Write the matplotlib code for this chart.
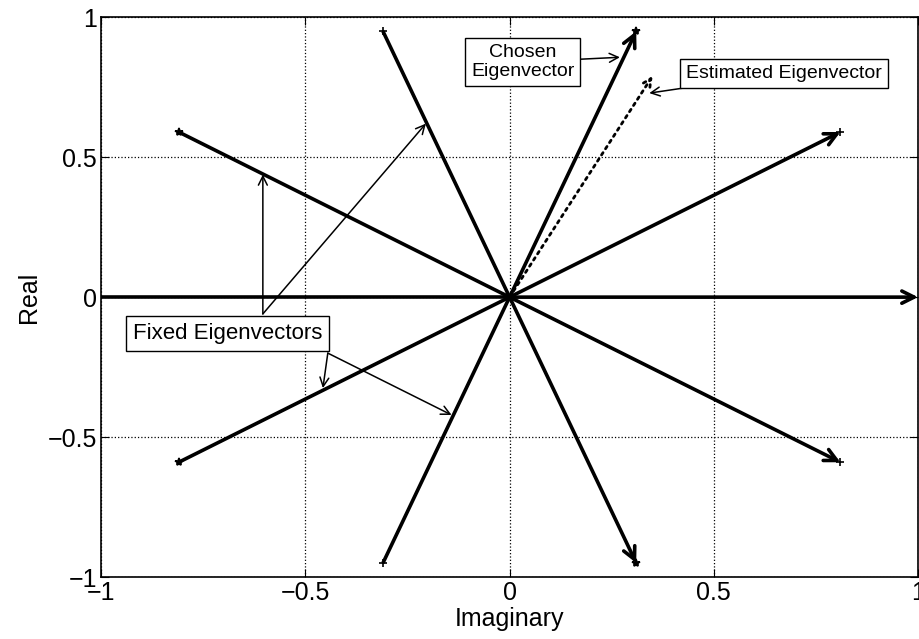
import matplotlib
matplotlib.use('Agg')
import matplotlib.pyplot as plt

plt.rcParams['font.family'] = ['Liberation Sans', 'DejaVu Sans']

# end points of the eigenvectors
vec_x = [1.0, 0.81, 0.31, -0.31, -0.81, -1.0, -0.81, -0.31, 0.31, 0.81]
vec_y = [0.0, 0.59, 0.95, 0.95, 0.59, 0.0, -0.59, -0.95, -0.95, -0.59]
vec_mark = ['', '+', '*', '+', '*', '', '*', '+', '*', '+']

# estimated eigenvector (dotted)
est_x = 0.35
est_y = 0.79

ticks = [-1, -0.5, 0, 0.5, 1]
tick_labels = ['\u22121', '\u22120.5', '0', '0.5', '1']

fig = plt.figure(figsize=(9.19, 6.39), dpi=100)
ax = fig.add_axes([0.110, 0.097, 0.889, 0.876])

for x, y, m in zip(vec_x, vec_y, vec_mark):
    if x > 0:
        ax.annotate('', xy=(x, y), xytext=(0, 0),
                    arrowprops=dict(arrowstyle='->', color='black', lw=2.6,
                                    mutation_scale=22, shrinkA=0, shrinkB=0))
    else:
        ax.plot([0, x], [0, y], color='black', lw=2.6, solid_capstyle='butt')
    if m:
        ax.plot(x, y, marker=m, color='black', ms=6, mew=1.2)

ax.annotate('', xy=(est_x, est_y), xytext=(0, 0),
            arrowprops=dict(arrowstyle='->', color='black', lw=2.0, ls=':',
                            mutation_scale=14, shrinkA=0, shrinkB=0))

box = dict(boxstyle='square,pad=0.3', fc='white', ec='black', lw=1)
arr = dict(arrowstyle='->', color='black', lw=1.1, mutation_scale=16,
           shrinkA=0, shrinkB=0)

ax.annotate('Chosen\nEigenvector', xy=(0.27, 0.857), xytext=(0.032, 0.84),
            ha='center', va='center', fontsize=14, bbox=box, arrowprops=arr,
            linespacing=1.15)
ax.annotate('Estimated Eigenvector', xy=(0.342, 0.729), xytext=(0.672, 0.80),
            ha='center', va='center', fontsize=14, bbox=box, arrowprops=arr)

ax.text(-0.69, -0.13, 'Fixed Eigenvectors', ha='center', va='center',
        fontsize=16, bbox=box, zorder=5)
ax.annotate('', xy=(-0.604, 0.438), xytext=(-0.604, -0.06), arrowprops=arr)
ax.annotate('', xy=(-0.205, 0.62), xytext=(-0.604, -0.06), arrowprops=arr)
ax.annotate('', xy=(-0.457, -0.325), xytext=(-0.445, -0.2), arrowprops=arr)
ax.annotate('', xy=(-0.142, -0.421), xytext=(-0.445, -0.2), arrowprops=arr)

ax.set_xlim(-1, 1)
ax.set_ylim(-1, 1)
ax.set_xticks(ticks)
ax.set_xticklabels(tick_labels)
ax.set_yticks(ticks)
ax.set_yticklabels(tick_labels)
ax.tick_params(direction='in', labelsize=18, length=6, top=True, right=True,
               pad=3)
ax.grid(True, ls=':', color='black', lw=0.9)
ax.set_xlabel('Imaginary', fontsize=18, labelpad=1)
ax.set_ylabel('Real', fontsize=18, labelpad=5)
for s in ax.spines.values():
    s.set_linewidth(1.2)

fig.savefig('out.png', dpi=100)
